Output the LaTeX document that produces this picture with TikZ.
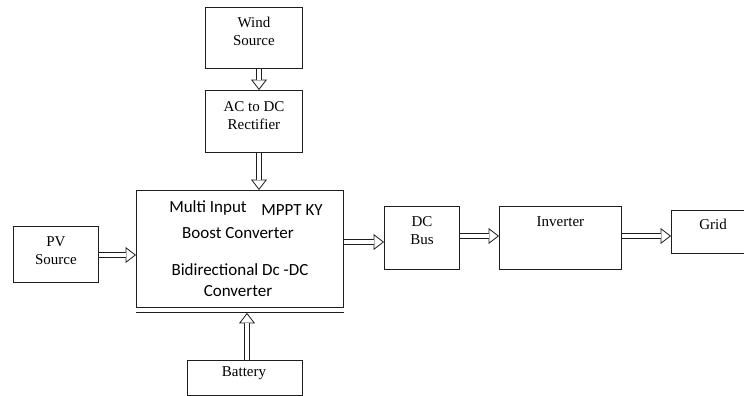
\documentclass[tikz,border=0pt]{standalone}
\usepackage{fontspec}
\setmainfont{Liberation Serif}
\newfontfamily\calibrifont{Carlito}
\usetikzlibrary{arrows.meta,positioning}
\definecolor{boxline}{HTML}{1E1E1E}

\tikzset{
  blockbox/.style={draw=boxline,line width=0.9pt,inner sep=0pt,anchor=north west},
  serifword/.style={font=\fontsize{15}{18}\selectfont,align=center,inner sep=0pt,anchor=north},
  sansword/.style={font=\calibrifont\fontsize{17}{20}\selectfont,inner sep=0pt},
  % hollow block arrow: wide dark stroke, white core, white-filled tip
  hollowflow/.style={draw=boxline,line width=0.8pt,
    -{Triangle[fill=white,length=10.5pt,width=16pt]},
    preaction={draw=boxline,line width=6.3pt,-,shorten >=9.5pt},
    postaction={draw=white,line width=4.7pt,-,shorten >=9.7pt}}
}

\begin{document}
\begin{tikzpicture}[x=1pt,y=-1pt]
    \useasboundingbox (0,0) rectangle (744,396);
    % blocks
    \node[blockbox,minimum width=97pt,minimum height=61pt] (wind) at (205,7) {};
    \node[blockbox,minimum width=97pt,minimum height=62pt] (rect) at (205,90) {};
    \node[blockbox,minimum width=207pt,minimum height=117pt] (main) at (136,190) {};
    \node[blockbox,minimum width=85pt,minimum height=56pt] (pv) at (13,226) {};
    \node[blockbox,minimum width=75pt,minimum height=63pt] (dcbus) at (384,206) {};
    \node[blockbox,minimum width=122pt,minimum height=63pt] (inv) at (499,206) {};
    \node[blockbox,minimum width=90pt,minimum height=43pt] (grid) at (671,210) {};
    \node[blockbox,minimum width=115pt,minimum height=35pt] (batt) at (187,360) {};
    \draw[boxline,line width=0.9pt] (main.south west) ++(0,5) coordinate (mainlowl)
      -- (mainlowl -| main.south east);

    % texts
    \node[serifword,below=10pt of wind.north] (windtxt) {Wind\\Source};
    \node[serifword,below=11pt of rect.north] (recttxt) {AC to DC\\Rectifier};
    \node[serifword,below=10pt of pv.north] (pvtxt) {PV\\Source};
    \node[serifword,below=10pt of dcbus.north] (dcbustxt) {DC\\Bus};
    \node[serifword,below=10pt of inv.north] (invtxt) {Inverter};
    \node[serifword,anchor=center] (gridtxt) at (713,224) {Grid};
    \node[serifword,anchor=center] (batttxt) at (244,373) {Battery};
    \node[sansword] (multitxt) at (208,208) {Multi Input};
    \node[sansword] (mppttxt) at (292,210) {MPPT KY};
    \node[sansword] (boosttxt) at (238,233) {Boost Converter};
    \node[sansword] (biditxt) at (240,270) {Bidirectional Dc -DC};
    \node[sansword] (convtxt) at (238,291) {Converter};

    % hollow arrows
    \draw[hollowflow] (wind.south -| 259,0) -- (rect.north -| 259,0);
    \draw[hollowflow] (rect.south -| 259,0) -- (main.north -| 259,0);
    \draw[hollowflow] (batt.north -| 247,0) -- (mainlowl -| 247,0);
    \draw[hollowflow] (pv.east |- 0,255) -- (main.west |- 0,255);
    \draw[hollowflow] (main.east |- 0,242) -- (dcbus.west |- 0,242);
    \draw[hollowflow] (dcbus.east |- 0,236) -- (inv.west |- 0,236);
    \draw[hollowflow] (inv.east |- 0,236) -- (grid.west |- 0,236);
\end{tikzpicture}
\end{document}
